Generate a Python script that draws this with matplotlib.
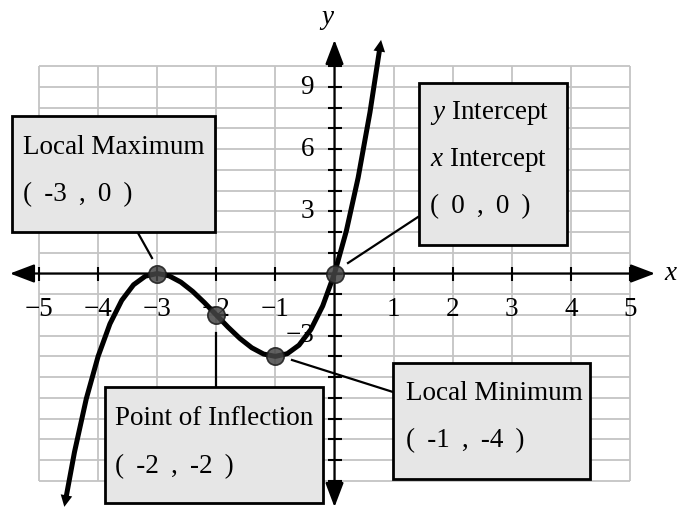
import matplotlib
matplotlib.use("Agg")
import matplotlib.pyplot as plt

# ---- data ----
curve_x = [-4.55, -4.4, -4.2, -4.0, -3.8, -3.6, -3.4, -3.2, -3.0, -2.8, -2.6, -2.4, -2.2, -2.0,
           -1.8, -1.6, -1.4, -1.2, -1.0, -0.8, -0.6, -0.4, -0.2, 0.0, 0.2, 0.4, 0.6, 0.77]
curve_y = [-10.93, -8.624, -6.048, -4.0, -2.432, -1.296, -0.544, -0.128, 0.0, -0.112, -0.416,
           -0.864, -1.408, -2.0, -2.592, -3.136, -3.584, -3.888, -4.0, -3.872, -3.456, -2.704,
           -1.568, 0.0, 2.048, 4.624, 7.776, 10.94]
point_x = [-3, -2, -1, 0]
point_y = [0, -2, -4, 0]
x_ticks = [-5, -4, -3, -2, -1, 1, 2, 3, 4, 5]
x_tick_labels = ["\u22125", "\u22124", "\u22123", "\u22122", "\u22121", "1", "2", "3", "4", "5"]
y_ticks = [9, 6, 3, -3]
y_tick_labels = ["9", "6", "3", "\u22123"]
grid_x = list(range(-5, 6))
grid_y = list(range(-10, 11))
S = " \u2009"
box_texts = [
    ["Local Maximum", S.join(["(", "-3", ",", "0", ")"])],
    ["$\\it{y}$ Intercept", "$\\it{x}$ Intercept", S.join(["(", "0", ",", "0", ")"])],
    ["Point of Inflection", S.join(["(", "-2", ",", "-2", ")"])],
    ["Local Minimum", S.join(["(", "-1", ",", "-4", ")"])],
]

# ---- layout helpers (pixel -> data) ----
W, H = 678, 509
X0, SX = 334.5, 59.1
Y0, SY = 273.5, 20.72
def px(p): return (p - X0) / SX
def py(p): return (Y0 - p) / SY

SERIF = ["Liberation Serif", "DejaVu Serif"]
plt.rcParams["font.family"] = SERIF
plt.rcParams["mathtext.fontset"] = "custom"
plt.rcParams["mathtext.it"] = "Liberation Serif:italic"
plt.rcParams["mathtext.rm"] = "Liberation Serif"

fig = plt.figure(figsize=(W / 100, H / 100), dpi=100)
ax = fig.add_axes([0, 0, 1, 1])
ax.set_xlim(px(0), px(W))
ax.set_ylim(py(H), py(0))
ax.axis("off")

# grid
gc = "#c4c4c4"
ax.vlines(grid_x, min(grid_y), max(grid_y), color=gc, lw=1.3, zorder=1)
ax.hlines(grid_y, min(grid_x), max(grid_x), color=gc, lw=1.3, zorder=1)

# axes with arrows
ap = dict(arrowstyle="-|>,head_length=1.0,head_width=0.38", mutation_scale=15,
          lw=1.6, color="black", shrinkA=0, shrinkB=0)
ax.annotate("", xy=(px(655), 0), xytext=(0, 0), arrowprops=ap, zorder=3)
ax.annotate("", xy=(px(10), 0), xytext=(0, 0), arrowprops=ap, zorder=3)
ax.annotate("", xy=(0, py(40)), xytext=(0, 0), arrowprops=ap, zorder=3)
ax.annotate("", xy=(0, py(507)), xytext=(0, 0), arrowprops=ap, zorder=3)

# ticks
ax.plot(grid_x, [0] * len(grid_x), ls="none", marker="|", ms=10, mew=1.5, color="black", zorder=3)
ax.plot([0] * len(grid_y), grid_y, ls="none", marker="_", ms=10, mew=1.5, color="black", zorder=3)

fs = 19.5
for xv, lab in zip(x_ticks, x_tick_labels):
    ax.text(xv, py(310), lab, ha="center", va="center", fontsize=fs, zorder=2)
for yv, lab in zip(y_ticks, y_tick_labels):
    ax.text(px(314), yv, lab, ha="right", va="center", fontsize=fs, zorder=2)

ax.text(px(670), 0, "x", ha="center", va="center", fontsize=fs, style="italic")
ax.text(px(327), py(18), "y", ha="center", va="center", fontsize=fs, style="italic")

# curve
ax.plot(curve_x, curve_y, color="black", lw=3.6, solid_capstyle="butt", zorder=5)
hp = dict(arrowstyle="-|>,head_length=0.7,head_width=0.35", mutation_scale=12,
          lw=0, color="black", shrinkA=0, shrinkB=0)
for i, j in ((0, 1), (-1, -2)):
    ex, ey = curve_x[i], curve_y[i]
    dx = (curve_x[i] - curve_x[j]) * SX
    dy = (curve_y[i] - curve_y[j]) * SY
    n = (dx * dx + dy * dy) ** 0.5
    tip = (ex + 7 * dx / n / SX, ey + 7 * dy / n / SY)
    back = (ex - 2 * dx / n / SX, ey - 2 * dy / n / SY)
    ax.annotate("", xy=tip, xytext=back, arrowprops=hp, zorder=5)

# points
ax.plot(point_x, point_y, ls="none", marker="o", ms=12.5, mfc="#454545", mec="#1a1a1a",
        mew=1.2, alpha=0.85, zorder=6)

# connectors
lc = dict(color="black", lw=1.6, zorder=4)
ax.plot([px(138), px(152)], [py(233), py(258)], **lc)
ax.plot([px(348), px(418)], [py(263), py(217)], **lc)
ax.plot([px(216), px(216)], [py(333), py(387)], **lc)
ax.plot([px(292), px(393)], [py(360), py(392)], **lc)

# boxes
boxes = [(12, 116, 215, 232), (419, 83, 567, 245), (105, 387, 323, 503), (393, 363, 590, 479)]
text_x = [23, 430, 115, 406]
baselines = [[154, 201], [119, 166, 213], [425, 473], [400, 447]]
for (l, t, r, b), tx, bl, lines in zip(boxes, text_x, baselines, box_texts):
    rect = plt.Rectangle((px(l), py(b)), px(r) - px(l), py(t) - py(b), facecolor="#e6e6e6",
                         edgecolor="black", lw=2.0, zorder=7)
    ax.add_patch(rect)
    for yb, s in zip(bl, lines):
        ax.text(px(tx), py(yb), s, ha="left", va="baseline", fontsize=fs, zorder=8)

fig.savefig("out.png", dpi=100)
